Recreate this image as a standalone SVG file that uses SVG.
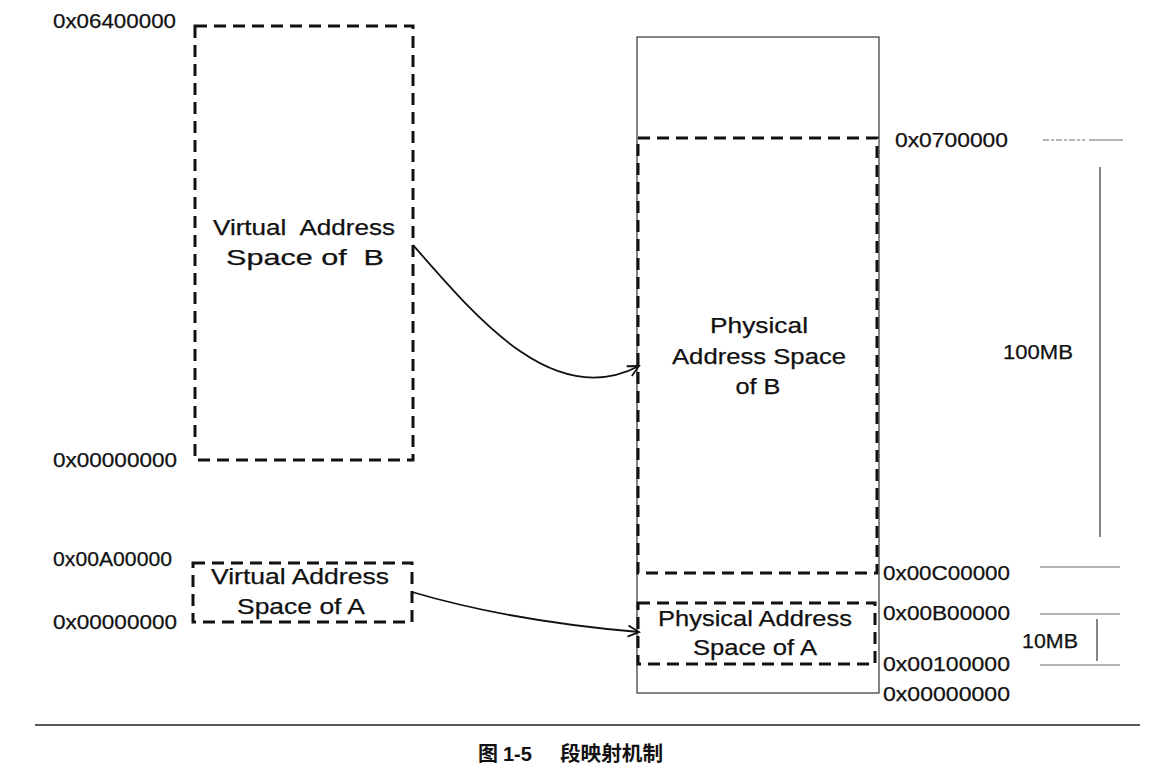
<svg xmlns="http://www.w3.org/2000/svg" width="1171" height="772" viewBox="0 0 1171 772">
<style>
.bg{fill:#fff}
.dash{fill:none;stroke:#111;stroke-width:3;stroke-dasharray:12 7}
.thin{fill:none;stroke:#333;stroke-width:1.2}
.tick{fill:none;stroke:#666;stroke-width:1}
.vline{fill:none;stroke:#333;stroke-width:1.2}
.lbl{font-family:"Liberation Sans",Arial,sans-serif;font-size:19.5px;fill:#111;stroke:#111;stroke-width:0.25}
.box{font-family:"Liberation Sans",Arial,sans-serif;font-size:21.5px;fill:#111;stroke:#111;stroke-width:0.25;text-anchor:middle}
.cap{font-family:"Liberation Sans","Noto Sans CJK SC",sans-serif;font-size:20px;font-weight:bold;fill:#111}
.conn{fill:none;stroke:#111;stroke-width:1.8}
</style>
<defs>
<marker id="arr" markerWidth="14" markerHeight="14" refX="12" refY="7" orient="auto" markerUnits="userSpaceOnUse">
<path d="M1,1.5 L12,7 L1,12.5" fill="none" stroke="#111" stroke-width="1.8"/>
</marker>
</defs>
<rect class="bg" x="0" y="0" width="1171" height="772"/>

<g id="virtual-b">
<rect class="dash" x="195" y="26" width="218" height="434"/>
<text class="box" x="304" y="235" textLength="182" lengthAdjust="spacingAndGlyphs" xml:space="preserve">Virtual  Address</text>
<text class="box" x="305" y="265" textLength="158" lengthAdjust="spacingAndGlyphs" xml:space="preserve">Space of  B</text>
</g>

<g id="virtual-a">
<rect class="dash" x="193" y="563" width="219" height="59"/>
<text class="box" x="300" y="584" textLength="178" lengthAdjust="spacingAndGlyphs">Virtual Address</text>
<text class="box" x="301" y="614" textLength="128" lengthAdjust="spacingAndGlyphs">Space of A</text>
</g>

<g id="physical-memory">
<rect class="thin" x="637" y="37" width="242" height="656"/>
</g>

<g id="physical-b">
<rect class="dash" x="638" y="138" width="239" height="435"/>
<text class="box" x="759" y="333" textLength="98" lengthAdjust="spacingAndGlyphs">Physical</text>
<text class="box" x="759" y="364" textLength="174" lengthAdjust="spacingAndGlyphs">Address Space</text>
<text class="box" x="758" y="394" textLength="45" lengthAdjust="spacingAndGlyphs">of B</text>
</g>

<g id="physical-a">
<rect class="dash" x="638" y="603" width="237" height="61"/>
<text class="box" x="755" y="626" textLength="194" lengthAdjust="spacingAndGlyphs">Physical Address</text>
<text class="box" x="755" y="655" textLength="124" lengthAdjust="spacingAndGlyphs">Space of A</text>
</g>

<g id="left-labels">
<text class="lbl" x="53" y="28" textLength="123" lengthAdjust="spacingAndGlyphs">0x06400000</text>
<text class="lbl" x="53" y="467" textLength="124" lengthAdjust="spacingAndGlyphs">0x00000000</text>
<text class="lbl" x="53" y="566" textLength="119" lengthAdjust="spacingAndGlyphs">0x00A00000</text>
<text class="lbl" x="53" y="629" textLength="124" lengthAdjust="spacingAndGlyphs">0x00000000</text>
</g>

<g id="right-labels">
<text class="lbl" x="895" y="147" textLength="113" lengthAdjust="spacingAndGlyphs">0x0700000</text>
<text class="lbl" x="883" y="580" textLength="127" lengthAdjust="spacingAndGlyphs">0x00C00000</text>
<text class="lbl" x="883" y="620" textLength="127" lengthAdjust="spacingAndGlyphs">0x00B00000</text>
<text class="lbl" x="883" y="671" textLength="127" lengthAdjust="spacingAndGlyphs">0x00100000</text>
<text class="lbl" x="883" y="701" textLength="127" lengthAdjust="spacingAndGlyphs">0x00000000</text>
</g>

<g id="size-100mb">
<line class="tick" x1="1043" y1="140" x2="1085" y2="140" stroke-dasharray="6 2 3 2"/>
<line class="tick" x1="1089" y1="140" x2="1123" y2="140"/>
<line class="vline" x1="1100" y1="167" x2="1100" y2="537"/>
<text class="lbl" x="1003" y="359" textLength="70" lengthAdjust="spacingAndGlyphs">100MB</text>
<line class="tick" x1="1040" y1="567" x2="1120" y2="567"/>
</g>

<g id="size-10mb">
<line class="tick" x1="1040" y1="614" x2="1120" y2="614"/>
<line class="vline" x1="1097" y1="619" x2="1097" y2="661"/>
<text class="lbl" x="1022" y="648" textLength="56" lengthAdjust="spacingAndGlyphs">10MB</text>
<line class="tick" x1="1040" y1="665" x2="1120" y2="665"/>
</g>

<g id="connectors">
<path class="conn" d="M413,245 C480,322 555,410 639,366" marker-end="url(#arr)"/>
<path class="conn" d="M412,592 Q510,621 639,632" marker-end="url(#arr)"/>
</g>

<g id="caption">
<line x1="35" y1="725" x2="1140" y2="725" stroke="#222" stroke-width="1.5"/>
<text class="cap" x="478" y="761">图<tspan x="503">1-5</tspan><tspan x="560" textLength="103" lengthAdjust="spacingAndGlyphs">段映射机制</tspan></text>
</g>
</svg>
